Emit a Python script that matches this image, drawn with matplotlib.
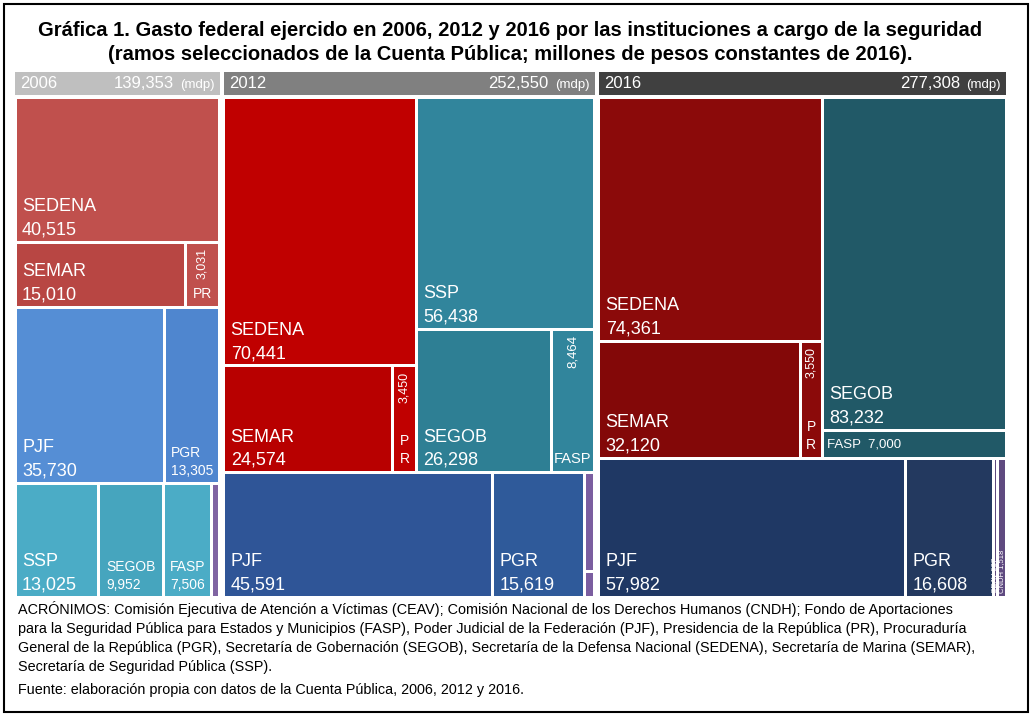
import matplotlib
matplotlib.use("Agg")
import matplotlib.pyplot as plt
from matplotlib.patches import Rectangle

# ---- data (millones de pesos de 2016) ----
years = ["2006", "2012", "2016"]
totals = [139353, 252550, 277308]

v2006 = {"SEDENA": 40515, "SEMAR": 15010, "PR": 3031, "PJF": 35730, "PGR": 13305,
         "SSP": 13025, "SEGOB": 9952, "FASP": 7506, "OTROS": 1279}
v2012 = {"SEDENA": 70441, "SEMAR": 24574, "PR": 3450, "SSP": 56438, "SEGOB": 26298,
         "FASP": 8464, "PJF": 45591, "PGR": 15619, "CNDH": 1330, "CEAV": 345}
v2016 = {"SEDENA": 74361, "SEMAR": 32120, "PR": 3550, "SEGOB": 83232, "FASP": 7000,
         "PJF": 57982, "PGR": 16608, "CEAV": 937, "CNDH": 1518}

# layout structure: (direction, children); 'v' stacks top->bottom, 'h' left->right
s2006 = ("v", ["SEDENA", ("h", ["SEMAR", "PR"]), ("h", ["PJF", "PGR"]),
               ("h", ["SSP", "SEGOB", "FASP", "OTROS"])])
s2012 = ("v", [("h", [("v", ["SEDENA", ("h", ["SEMAR", "PR"])]),
                      ("v", ["SSP", ("h", ["SEGOB", "FASP"])])]),
               ("h", ["PJF", "PGR", ("v", ["CNDH", "CEAV"])])])
s2016 = ("v", [("h", [("v", ["SEDENA", ("h", ["SEMAR", "PR"])]),
                      ("v", ["SEGOB", "FASP"])]),
               ("h", ["PJF", "PGR", "CEAV", "CNDH"])])

colors = {
    "2006": {"SEDENA": "#c0504d", "SEMAR": "#b84643", "PR": "#c0504d", "PJF": "#558ed5",
             "PGR": "#4f86cf", "SSP": "#4bacc6", "SEGOB": "#46a5be", "FASP": "#4bacc6",
             "OTROS": "#8064a2"},
    "2012": {"SEDENA": "#c00000", "SEMAR": "#b80000", "PR": "#c00000", "SSP": "#31859c",
             "SEGOB": "#2e7f94", "FASP": "#31859c", "PJF": "#2f5597", "PGR": "#2f5a9a",
             "CNDH": "#7b5ea0", "CEAV": "#7b5ea0"},
    "2016": {"SEDENA": "#8b0a0a", "SEMAR": "#830808", "PR": "#8b0a0a", "SEGOB": "#215967",
             "FASP": "#215967", "PJF": "#1f3864", "PGR": "#23395f", "CEAV": "#5f4a80",
             "CNDH": "#5f4a80"},
}
header_colors = ["#bfbfbf", "#808080", "#404040"]


def total(node, vals):
    if isinstance(node, str):
        return vals[node]
    return sum(total(c, vals) for c in node[1])


def layout(node, vals, x, y, w, h, out):
    if isinstance(node, str):
        out[node] = (x, y, w, h)
        return
    d, kids = node
    tot = total(node, vals)
    pos = 0.0
    for k in kids:
        f = total(k, vals) / tot
        if d == "v":
            layout(k, vals, x, y + pos * h, w, f * h, out)
        else:
            layout(k, vals, x + pos * w, y, f * w, h, out)
        pos += f


fig = plt.figure(figsize=(10.32, 7.16), dpi=100)
ax = fig.add_axes([0, 0, 1, 1])
ax.set_xlim(0, 1032)
ax.set_ylim(716, 0)
ax.axis("off")
FONT = "Liberation Sans"

ax.add_patch(Rectangle((4, 4), 1024, 708, fill=False, ec="black", lw=1.5))
ax.text(510, 30, "Gráfica 1. Gasto federal ejercido en 2006, 2012 y 2016 por las instituciones a cargo de la seguridad",
        ha="center", va="center", fontsize=14.5, fontweight="bold", family=FONT)
ax.text(510, 54, "(ramos seleccionados de la Cuenta Pública; millones de pesos constantes de 2016).",
        ha="center", va="center", fontsize=14.5, fontweight="bold", family=FONT)

X0, X1, Y0, Y1, GAP = 15, 1006, 97, 597, 4
width_avail = X1 - X0 - 2 * GAP
grand = sum(totals)
xs = X0
rects = {}
for yr, tot, vals, st, hc in zip(years, totals, [v2006, v2012, v2016], [s2006, s2012, s2016], header_colors):
    w = width_avail * tot / grand
    ax.add_patch(Rectangle((xs, 72), w, 23, color=hc, lw=0))
    ax.text(xs + 5, 84, yr, color="white", fontsize=12, va="center", family=FONT)
    ax.text(xs + w - 5, 85, "(mdp)", color="white", fontsize=9.5, va="center", ha="right", family=FONT)
    ax.text(xs + w - 46, 84, f"{tot:,}", color="white", fontsize=12, va="center", ha="right", family=FONT)
    out = {}
    layout(st, vals, xs, Y0, w, Y1 - Y0, out)
    for name, (rx, ry, rw, rh) in out.items():
        ax.add_patch(Rectangle((rx + 1.5, ry + 1.5), rw - 3, rh - 3, color=colors[yr][name], lw=0))
    rects[yr] = (out, vals)
    xs += w + GAP


def std_label(yr, name, fs=13, small=False):
    out, vals = rects[yr]
    rx, ry, rw, rh = out[name]
    fs2 = 10 if small else fs
    ax.text(rx + 7, ry + rh - 12, f"{vals[name]:,}", color="white", fontsize=fs2, family=FONT, va="center")
    ax.text(rx + 7, ry + rh - 12 - fs2 * 1.8, name, color="white", fontsize=fs2, family=FONT, va="center")


for yr, names in [("2006", ["SEDENA", "SEMAR", "PJF", "SSP"]),
                  ("2012", ["SEDENA", "SEMAR", "SSP", "SEGOB", "PJF", "PGR"]),
                  ("2016", ["SEDENA", "SEMAR", "SEGOB", "PJF", "PGR"])]:
    for n in names:
        std_label(yr, n)
for n in ["PGR", "SEGOB", "FASP"]:
    std_label("2006", n, small=True)


def rot_label(yr, name, bottom_text, fs=9):
    out, vals = rects[yr]
    rx, ry, rw, rh = out[name]
    ax.text(rx + rw / 2, ry + 6, f"{vals[name]:,}", color="white", fontsize=fs, family=FONT,
            rotation=90, ha="center", va="top")
    ax.text(rx + rw / 2, ry + rh - 6, bottom_text, color="white", fontsize=fs + 1, family=FONT,
            ha="center", va="bottom", linespacing=1.4)


rot_label("2006", "PR", "PR")
rot_label("2012", "PR", "P\nR")
rot_label("2012", "FASP", "FASP", fs=9.5)
rot_label("2016", "PR", "P\nR")

out, vals = rects["2016"]
rx, ry, rw, rh = out["FASP"]
ax.text(rx + 5, ry + rh / 2, f"FASP  {vals['FASP']:,}", color="white", fontsize=9.5, family=FONT, va="center")
for n in ["CEAV", "CNDH"]:
    rx, ry, rw, rh = out[n]
    ax.text(rx + rw / 2, ry + rh - 4, f"{n} {vals[n]:,}", color="white", fontsize=5.5, family=FONT,
            rotation=90, ha="center", va="bottom")

notes = [
    "ACRÓNIMOS: Comisión Ejecutiva de Atención a Víctimas (CEAV); Comisión Nacional de los Derechos Humanos (CNDH); Fondo de Aportaciones",
    "para la Seguridad Pública para Estados y Municipios (FASP), Poder Judicial de la Federación (PJF), Presidencia de la República (PR), Procuraduría",
    "General de la República (PGR), Secretaría de Gobernación (SEGOB), Secretaría de la Defensa Nacional (SEDENA), Secretaría de Marina (SEMAR),",
    "Secretaría de Seguridad Pública (SSP).",
]
for i, line in enumerate(notes):
    ax.text(18, 609 + i * 19.5, line, fontsize=10.4, family=FONT, va="center")
ax.text(18, 690, "Fuente: elaboración propia con datos de la Cuenta Pública, 2006, 2012 y 2016.",
        fontsize=10.4, family=FONT, va="center")

fig.savefig("out.png", dpi=100)
